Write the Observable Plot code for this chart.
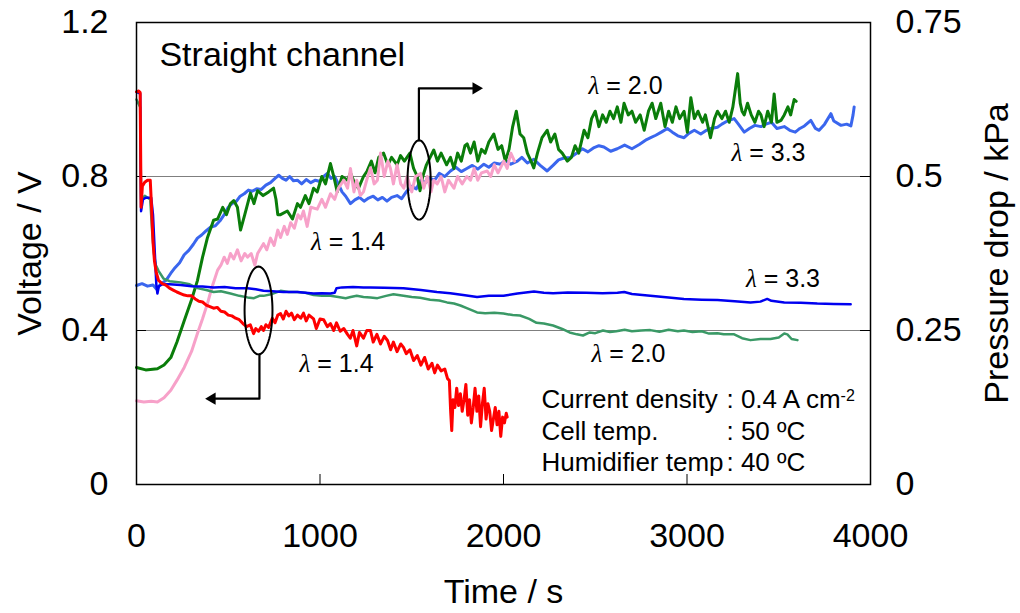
<!DOCTYPE html>
<html><head><meta charset="utf-8">
<script src="https://cdn.jsdelivr.net/npm/d3@7"></script>
<script src="https://cdn.jsdelivr.net/npm/@observablehq/plot@0.6"></script>
<style>body{margin:0;background:#fff}</style>
</head><body><div id="chart"></div>
<script>
// ---------- DATA ----------
const xTicks = [0, 1000, 2000, 3000, 4000];
const voltTicks = [0, 0.4, 0.8, 1.2];
const kPaTicks = [0, 0.25, 0.5, 0.75];
const kPaTickLabels = ["0", "0.25", "0.5", "0.75"];
const voltMax = 1.2, kPaMax = 0.75;

// Cell voltage (V) vs time (s)
const volt14 = [[0,1.02],[12,1.022],[20,1.018],[25,0.72],[32,0.775],[45,0.785],[60,0.79],[75,0.79],[82,0.72],[90,0.63],[98,0.58],[108,0.55],[120,0.53],[140,0.522],[160,0.518],[180,0.51],[200,0.505],[220,0.5],[240,0.496],[260,0.492],[280,0.49],[300,0.49],[320,0.482],[340,0.476],[360,0.474],[380,0.466],[400,0.462],[420,0.458],[440,0.46],[460,0.45],[480,0.448],[500,0.44],[520,0.438],[540,0.432],[560,0.428],[580,0.418],[600,0.41],[620,0.415],[638,0.392],[650,0.405],[665,0.398],[680,0.41],[692,0.4],[705,0.415],[720,0.408],[740,0.432],[755,0.42],[770,0.44],[785,0.444],[800,0.43],[815,0.45],[830,0.438],[845,0.445],[860,0.428],[877,0.44],[895,0.432],[910,0.445],[925,0.425],[940,0.44],[965,0.43],[980,0.405],[1000,0.43],[1020,0.428],[1040,0.41],[1057,0.418],[1075,0.4],[1090,0.42],[1110,0.398],[1130,0.405],[1150,0.39],[1165,0.38],[1180,0.4],[1200,0.36],[1215,0.395],[1237,0.38],[1255,0.4],[1275,0.4],[1290,0.37],[1310,0.39],[1330,0.365],[1350,0.385],[1368,0.374],[1385,0.35],[1400,0.37],[1420,0.345],[1440,0.365],[1455,0.356],[1470,0.34],[1490,0.35],[1510,0.322],[1530,0.335],[1550,0.31],[1570,0.33],[1590,0.3],[1610,0.315],[1625,0.29],[1640,0.31],[1660,0.295],[1680,0.3],[1695,0.275],[1705,0.27],[1712,0.19],[1718,0.14],[1725,0.22],[1735,0.2],[1745,0.25],[1755,0.205],[1765,0.236],[1775,0.19],[1785,0.22],[1795,0.26],[1805,0.18],[1815,0.22],[1825,0.16],[1835,0.2],[1845,0.25],[1855,0.19],[1865,0.23],[1875,0.15],[1885,0.21],[1895,0.25],[1905,0.17],[1915,0.21],[1925,0.19],[1935,0.14],[1945,0.17],[1955,0.2],[1965,0.155],[1975,0.19],[1985,0.125],[1995,0.175],[2005,0.16],[2015,0.185],[2020,0.175]];
const volt20 = [[0,1.0],[20,0.98],[25,0.74],[45,0.75],[75,0.74],[85,0.66],[95,0.6],[105,0.57],[120,0.555],[147,0.535],[180,0.528],[240,0.525],[290,0.52],[332,0.51],[380,0.505],[420,0.5],[460,0.502],[512,0.496],[560,0.49],[605,0.486],[640,0.484],[670,0.49],[692,0.49],[740,0.495],[785,0.503],[830,0.5],[877,0.5],[920,0.498],[965,0.492],[1010,0.49],[1057,0.49],[1100,0.487],[1140,0.484],[1167,0.487],[1200,0.49],[1237,0.487],[1275,0.486],[1313,0.484],[1360,0.49],[1400,0.494],[1455,0.49],[1500,0.487],[1546,0.485],[1600,0.48],[1650,0.478],[1692,0.473],[1730,0.47],[1765,0.465],[1800,0.458],[1856,0.447],[1900,0.445],[1950,0.446],[2000,0.444],[2050,0.44],[2090,0.439],[2140,0.43],[2180,0.42],[2220,0.418],[2270,0.413],[2320,0.404],[2360,0.395],[2400,0.39],[2433,0.387],[2470,0.395],[2500,0.393],[2542,0.4],[2580,0.396],[2615,0.398],[2660,0.402],[2700,0.398],[2750,0.4],[2800,0.401],[2850,0.397],[2900,0.402],[2950,0.398],[2983,0.4],[3030,0.396],[3080,0.398],[3120,0.392],[3166,0.393],[3200,0.39],[3257,0.39],[3300,0.38],[3346,0.375],[3400,0.378],[3455,0.378],[3500,0.382],[3530,0.392],[3547,0.39],[3570,0.378],[3602,0.375]];
const volt33 = [[0,1.02],[20,1.015],[25,0.71],[35,0.74],[50,0.745],[80,0.745],[90,0.7],[100,0.6],[108,0.52],[114,0.496],[122,0.515],[140,0.52],[180,0.52],[240,0.518],[300,0.515],[360,0.514],[420,0.512],[480,0.513],[540,0.51],[605,0.51],[650,0.507],[692,0.503],[740,0.502],[800,0.5],[877,0.5],[920,0.498],[965,0.496],[1010,0.497],[1057,0.496],[1080,0.498],[1090,0.51],[1120,0.512],[1180,0.513],[1237,0.512],[1275,0.512],[1350,0.511],[1455,0.51],[1550,0.505],[1637,0.5],[1710,0.497],[1780,0.492],[1856,0.487],[1920,0.49],[2000,0.49],[2076,0.496],[2144,0.5],[2166,0.501],[2220,0.498],[2270,0.497],[2350,0.499],[2451,0.498],[2540,0.497],[2621,0.498],[2658,0.5],[2700,0.495],[2800,0.49],[2900,0.486],[2983,0.482],[3080,0.48],[3166,0.479],[3260,0.476],[3346,0.473],[3400,0.475],[3437,0.482],[3460,0.477],[3530,0.473],[3620,0.472],[3710,0.47],[3800,0.469],[3892,0.468]];

// Pressure drop (kPa) vs time (s)
const press14 = [[0,0.136],[40,0.134],[80,0.135],[114,0.134],[150,0.141],[187,0.153],[220,0.169],[260,0.19],[300,0.216],[332,0.245],[360,0.269],[387,0.294],[410,0.319],[442,0.348],[460,0.356],[478,0.369],[495,0.359],[512,0.375],[530,0.366],[550,0.381],[570,0.363],[590,0.375],[605,0.369],[625,0.375],[645,0.356],[660,0.375],[692,0.391],[710,0.381],[730,0.4],[750,0.388],[770,0.413],[785,0.401],[805,0.419],[822,0.406],[840,0.425],[860,0.416],[880,0.438],[895,0.431],[910,0.444],[930,0.419],[950,0.45],[985,0.447],[1010,0.463],[1030,0.45],[1057,0.472],[1080,0.463],[1100,0.481],[1130,0.494],[1150,0.481],[1166,0.513],[1185,0.475],[1200,0.494],[1220,0.469],[1237,0.475],[1260,0.5],[1275,0.514],[1295,0.488],[1313,0.494],[1330,0.538],[1350,0.5],[1370,0.525],[1384,0.513],[1400,0.488],[1420,0.519],[1440,0.488],[1457,0.481],[1475,0.5],[1500,0.475],[1520,0.5],[1548,0.505],[1565,0.481],[1585,0.5],[1605,0.475],[1620,0.494],[1639,0.488],[1660,0.5],[1680,0.475],[1700,0.494],[1730,0.481],[1750,0.5],[1775,0.488],[1800,0.5],[1820,0.494],[1840,0.513],[1860,0.494],[1880,0.506],[1911,0.509],[1930,0.5],[1950,0.519],[1970,0.506],[2002,0.525],[2020,0.513],[2040,0.538],[2060,0.525]];
const press20 = [[0,0.19],[50,0.186],[114,0.188],[150,0.194],[187,0.206],[220,0.231],[260,0.266],[300,0.3],[332,0.331],[360,0.369],[387,0.401],[420,0.429],[442,0.431],[470,0.45],[490,0.438],[512,0.456],[530,0.461],[550,0.45],[567,0.413],[590,0.438],[621,0.473],[640,0.456],[660,0.477],[690,0.469],[720,0.475],[747,0.481],[760,0.463],[770,0.438],[785,0.438],[822,0.444],[850,0.431],[877,0.456],[894,0.45],[920,0.469],[940,0.456],[965,0.481],[985,0.475],[1010,0.5],[1030,0.488],[1057,0.521],[1075,0.5],[1094,0.475],[1120,0.5],[1150,0.494],[1166,0.506],[1190,0.488],[1210,0.481],[1237,0.5],[1257,0.509],[1280,0.525],[1300,0.506],[1320,0.531],[1346,0.538],[1370,0.519],[1390,0.531],[1420,0.519],[1439,0.534],[1460,0.525],[1490,0.538],[1510,0.513],[1530,0.5],[1545,0.477],[1560,0.5],[1580,0.519],[1600,0.531],[1620,0.543],[1640,0.525],[1660,0.538],[1690,0.519],[1711,0.531],[1730,0.513],[1750,0.538],[1770,0.525],[1790,0.55],[1802,0.553],[1820,0.538],[1840,0.556],[1860,0.525],[1880,0.544],[1900,0.538],[1920,0.556],[1947,0.569],[1970,0.544],[1990,0.55],[2010,0.525],[2030,0.544],[2050,0.581],[2070,0.606],[2090,0.569],[2110,0.563],[2130,0.538],[2150,0.525],[2165,0.514],[2185,0.538],[2210,0.563],[2238,0.575],[2257,0.556],[2280,0.569],[2300,0.544],[2320,0.538],[2348,0.525],[2370,0.531],[2390,0.55],[2410,0.538],[2439,0.575],[2460,0.563],[2480,0.594],[2500,0.606],[2520,0.581],[2540,0.6],[2560,0.588],[2580,0.606],[2600,0.594],[2620,0.613],[2640,0.588],[2657,0.619],[2680,0.6],[2700,0.606],[2720,0.588],[2745,0.6],[2767,0.575],[2790,0.606],[2810,0.619],[2830,0.594],[2857,0.619],[2880,0.581],[2900,0.606],[2920,0.588],[2940,0.613],[2960,0.594],[2984,0.606],[3002,0.572],[3021,0.628],[3040,0.594],[3060,0.606],[3085,0.588],[3100,0.6],[3128,0.563],[3150,0.594],[3166,0.606],[3190,0.594],[3210,0.606],[3230,0.588],[3250,0.613],[3265,0.644],[3276,0.667],[3290,0.619],[3300,0.606],[3312,0.6],[3330,0.619],[3350,0.6],[3370,0.588],[3390,0.606],[3403,0.6],[3420,0.581],[3440,0.606],[3460,0.588],[3475,0.634],[3490,0.588],[3512,0.591],[3530,0.6],[3550,0.613],[3565,0.6],[3584,0.625],[3595,0.622]];
const press33 = [[0,0.323],[30,0.326],[60,0.322],[90,0.324],[110,0.317],[130,0.325],[160,0.331],[187,0.343],[210,0.352],[235,0.36],[260,0.373],[285,0.38],[310,0.39],[332,0.4],[355,0.405],[380,0.412],[405,0.418],[430,0.42],[455,0.428],[478,0.438],[500,0.45],[520,0.456],[545,0.46],[565,0.468],[587,0.472],[610,0.478],[630,0.476],[655,0.48],[680,0.479],[705,0.486],[730,0.49],[755,0.497],[775,0.502],[795,0.497],[815,0.494],[835,0.5],[855,0.493],[877,0.494],[900,0.488],[925,0.495],[950,0.49],[975,0.494],[1000,0.492],[1020,0.5],[1040,0.505],[1060,0.497],[1080,0.5],[1100,0.488],[1120,0.475],[1140,0.468],[1166,0.456],[1190,0.462],[1215,0.466],[1240,0.46],[1265,0.465],[1290,0.468],[1315,0.462],[1340,0.466],[1365,0.46],[1390,0.466],[1420,0.469],[1445,0.464],[1470,0.475],[1500,0.484],[1525,0.48],[1550,0.494],[1575,0.49],[1600,0.497],[1625,0.494],[1650,0.505],[1680,0.5],[1711,0.509],[1740,0.515],[1770,0.508],[1800,0.513],[1830,0.518],[1860,0.512],[1893,0.52],[1920,0.515],[1950,0.522],[1984,0.52],[2010,0.526],[2040,0.52],[2076,0.525],[2100,0.531],[2130,0.522],[2165,0.528],[2200,0.518],[2238,0.509],[2270,0.518],[2300,0.527],[2330,0.53],[2365,0.531],[2400,0.538],[2430,0.545],[2460,0.54],[2494,0.547],[2520,0.55],[2547,0.548],[2584,0.541],[2620,0.545],[2660,0.551],[2700,0.545],[2740,0.552],[2780,0.56],[2802,0.563],[2830,0.567],[2860,0.572],[2893,0.578],[2920,0.572],[2950,0.566],[2984,0.563],[3010,0.57],[3040,0.575],[3075,0.569],[3100,0.574],[3130,0.578],[3166,0.58],[3190,0.585],[3220,0.59],[3257,0.594],[3280,0.585],[3312,0.572],[3340,0.578],[3370,0.583],[3403,0.581],[3430,0.585],[3460,0.588],[3490,0.578],[3530,0.581],[3560,0.575],[3590,0.572],[3615,0.578],[3640,0.582],[3675,0.591],[3700,0.578],[3720,0.575],[3750,0.585],[3784,0.602],[3800,0.59],[3839,0.583],[3870,0.585],[3893,0.582],[3905,0.6],[3911,0.613]];

// Annotations (positions in data units: time s, voltage V)
const titleLabel = [{text: "Straight channel", t: 125, v: 1.116}];
const lambdaLabels = [
  {text: "λ = 2.0", t: 2665, v: 1.034},
  {text: "λ = 3.3", t: 3444, v: 0.860},
  {text: "λ = 1.4", t: 1153, v: 0.629},
  {text: "λ = 3.3", t: 3523, v: 0.535},
  {text: "λ = 2.0", t: 2681, v: 0.340},
  {text: "λ = 1.4", t: 1090, v: 0.312}
];
const conditionNames = ["Current density", "Cell temp.", "Humidifier temp"];
const conditionValues = [": 0.4 A cm-2", ": 50 ºC", ": 40 ºC"];
const conditionRowsV = [0.221, 0.138, 0.057];
const conditionNameT = 2207, conditionValueT = 3215;
const ellipses = [{id: "up", t: 1540, v: 0.791, rt: 63, rv: 0.103}, {id: "down", t: 665, v: 0.452, rt: 76, rv: 0.114}];
const leaders = [
  {id: "up", pts: [[1539, 0.894], [1539, 1.029], [1850, 1.029]], head: [1850, 1.029], rot: 90},
  {id: "down", pts: [[670, 0.338], [670, 0.223], [412, 0.223]], head: [412, 0.223], rot: -90}
];

// ---------- CHART ----------
const k = voltMax / kPaMax; // right-axis (kPa) to left-axis (V) mapping
const ellipsePts = ellipses.flatMap(e => d3.range(0, 73).map(i => {
  const a = i / 72 * 2 * Math.PI;
  return {id: e.id, t: e.t + e.rt * Math.cos(a), v: e.v + e.rv * Math.sin(a)};
}));
const leaderPts = leaders.flatMap(l => l.pts.map(p => ({id: l.id, t: p[0], v: p[1]})));
const condRows = conditionNames.map((n, i) => ({name: n, value: conditionValues[i], v: conditionRowsV[i]}));
const kLabel = new Map(kPaTicks.map((t, i) => [Math.round(t * k * 1000), kPaTickLabels[i]]));

const fontFamily = "'Liberation Sans', Arial, sans-serif";
const chart = Plot.plot({
  width: 1020, height: 613,
  marginLeft: 136, marginRight: 150, marginTop: 22, marginBottom: 129,
  x: {domain: [0, 4000]},
  y: {domain: [0, voltMax]},
  style: {fontFamily, fontSize: "34px", background: "white", color: "black", overflow: "visible"},
  marks: [
    Plot.ruleY([0.4, 0.8], {stroke: "#7f7f7f", strokeWidth: 1}),
    Plot.tickY([0.4, 0.8], {insetRight: 724, stroke: "black"}),
    Plot.tickY([0.4, 0.8], {insetLeft: 724, stroke: "black"}),
    Plot.tickX([1000, 2000, 3000], {insetTop: 452, stroke: "black"}),
    Plot.line(press33, {x: d => d[0], y: d => d[1] * k, stroke: "#3a66ee", strokeWidth: 3}),
    Plot.line(press20, {x: d => d[0], y: d => d[1] * k, stroke: "#0a7d0a", strokeWidth: 3}),
    Plot.line(press14, {x: d => d[0], y: d => d[1] * k, stroke: "#f7a1c9", strokeWidth: 3}),
    Plot.line(volt20, {x: d => d[0], y: d => d[1], stroke: "#3a9966", strokeWidth: 2.5}),
    Plot.line(volt33, {x: d => d[0], y: d => d[1], stroke: "#0000f0", strokeWidth: 2.5}),
    Plot.line(volt14, {x: d => d[0], y: d => d[1], stroke: "#ff0000", strokeWidth: 3}),
    Plot.line(ellipsePts, {x: "t", y: "v", z: "id", stroke: "black", strokeWidth: 2}),
    Plot.line(leaderPts, {x: "t", y: "v", z: "id", stroke: "black", strokeWidth: 2.2}),
    Plot.dot(leaders, {x: d => d.head[0], y: d => d.head[1], rotate: "rot", symbol: "triangle", r: 4.5, fill: "black", stroke: "none"}),
    Plot.frame({stroke: "black", strokeWidth: 1.5}),
    Plot.axisX(xTicks, {tickSize: 0, tickPadding: 38, label: null, fontSize: 34, tickFormat: d => String(d)}),
    Plot.axisY(voltTicks, {anchor: "left", tickSize: 0, tickPadding: 28, label: null, fontSize: 34, tickFormat: d => String(d)}),
    Plot.axisY(kPaTicks.map(t => t * k), {anchor: "right", tickSize: 0, tickPadding: 25, label: null, fontSize: 34, tickFormat: d => kLabel.get(Math.round(d * 1000))}),
    Plot.text(["Time / s"], {frameAnchor: "bottom", dy: 108, fontSize: 34, textAnchor: "middle", lineAnchor: "middle"}),
    Plot.text(["Voltage / V"], {frameAnchor: "left", dx: -106, rotate: -90, fontSize: 34, textAnchor: "middle", lineAnchor: "middle"}),
    Plot.text(["Pressure drop / kPa"], {frameAnchor: "right", dx: 127, rotate: -90, fontSize: 34, textAnchor: "middle", lineAnchor: "middle"}),
    Plot.text(titleLabel, {x: "t", y: "v", text: "text", textAnchor: "start", fontSize: 34}),
    Plot.text(lambdaLabels, {x: "t", y: "v", text: "text", fontSize: 25}),
    Plot.text(condRows, {x: () => conditionNameT, y: "v", text: "name", textAnchor: "start", fontSize: 26}),
    Plot.text(condRows, {x: () => conditionValueT, y: "v", text: "value", textAnchor: "start", fontSize: 26})
  ]
});
document.getElementById("chart").appendChild(chart);

// Typographic details: italic serif lambda, superscript exponent
d3.select(chart).selectAll("text").each(function() {
  const el = d3.select(this);
  const s = this.textContent;
  if (s.startsWith("λ") && this.childElementCount === 0) {
    el.text(null);
    el.append("tspan").attr("font-family", "'Liberation Serif', serif").attr("font-style", "italic").text("λ");
    el.append("tspan").text(s.slice(1));
  } else if (s.endsWith("cm-2") && this.childElementCount === 0) {
    el.text(null);
    el.append("tspan").text(s.slice(0, -2));
    el.append("tspan").attr("font-size", "16px").attr("dy", "-0.45em").text("-2");
  }
});
</script></body></html>
